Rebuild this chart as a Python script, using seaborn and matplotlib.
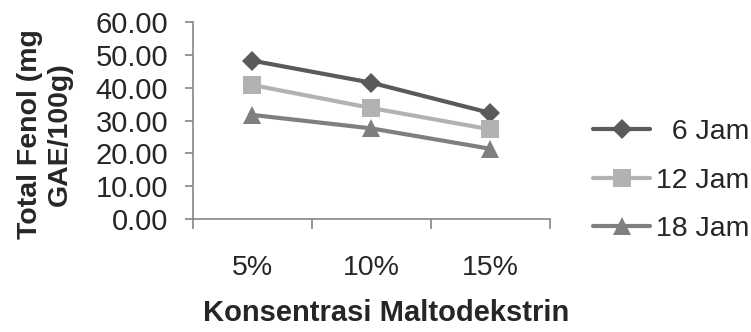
import matplotlib
matplotlib.use("Agg")
import matplotlib.pyplot as plt
from matplotlib.ticker import FixedLocator
import seaborn as sns
import pandas as pd

categories = ["5%", "10%", "15%"]
series_names = ["  6 Jam", "12 Jam", "18 Jam"]
values_6 = [48.2, 41.5, 32.3]
values_12 = [40.8, 33.8, 27.3]
values_18 = [31.7, 27.6, 21.4]
y_ticks = [0, 10, 20, 30, 40, 50, 60]

colors = ["#5a5a5a", "#b2b2b2", "#7f7f7f"]
markers = ["D", "s", "^"]
marker_sizes = [10.5, 13, 13]

df = pd.DataFrame({
    "Konsentrasi": categories * 3,
    "Total": values_6 + values_12 + values_18,
    "Waktu": [s for s in series_names for _ in categories],
})

sns.set_style("white")
plt.rcParams["font.family"] = ["Liberation Sans", "DejaVu Sans"]

fig = plt.figure(figsize=(7.51, 3.32), dpi=100)
ax = fig.add_axes([0.257, 0.340, 0.475, 0.594])

sns.lineplot(data=df, x="Konsentrasi", y="Total", hue="Waktu", style="Waktu",
             palette=colors, markers=markers, dashes=False, linewidth=3,
             markersize=12, markeredgewidth=0, sort=False, ax=ax)
for line, ms in zip(ax.lines, marker_sizes):
    line.set_markersize(ms)

ax.set_xlim(-0.5, 2.5)
ax.set_ylim(0, 60)
ax.set_yticks(y_ticks)
ax.set_yticklabels([f"{v:.2f}" for v in y_ticks])
ax.set_xticks(range(len(categories)))
ax.set_xticklabels(categories)
ax.xaxis.set_minor_locator(FixedLocator([-0.5, 0.5, 1.5, 2.5]))

axis_gray = "#868686"
for side in ["top", "right"]:
    ax.spines[side].set_visible(False)
for side in ["left", "bottom"]:
    ax.spines[side].set_color(axis_gray)
    ax.spines[side].set_linewidth(1.2)

ax.tick_params(axis="y", which="major", direction="out", length=6, width=1.2,
               color=axis_gray, labelsize=21, pad=12, left=True)
ax.tick_params(axis="x", which="major", length=0, labelsize=20.5, pad=25.5)
ax.tick_params(axis="x", which="minor", direction="out", length=7, width=1.2,
               color=axis_gray, bottom=True)

ax.set_xlabel("Konsentrasi Maltodekstrin", fontsize=21, fontweight="bold")
ax.xaxis.set_label_coords(0.54, -0.405)
ax.xaxis.label.set_va("top")
ax.set_ylabel("Total Fenol (mg\nGAE/100g)", fontsize=20.5, fontweight="bold",
              linespacing=1.2)
ax.yaxis.set_label_coords(-0.336, 0.43)

handles, labels = ax.get_legend_handles_labels()
for h, ms in zip(handles, marker_sizes):
    h.set_markersize(ms)
ax.legend(handles, labels, loc="center left", bbox_to_anchor=(1.09, 0.195),
          frameon=False, fontsize=20.5, handlelength=2.0, handletextpad=0.2,
          labelspacing=0.8, borderaxespad=0)

fig.savefig("out.png", dpi=100)
